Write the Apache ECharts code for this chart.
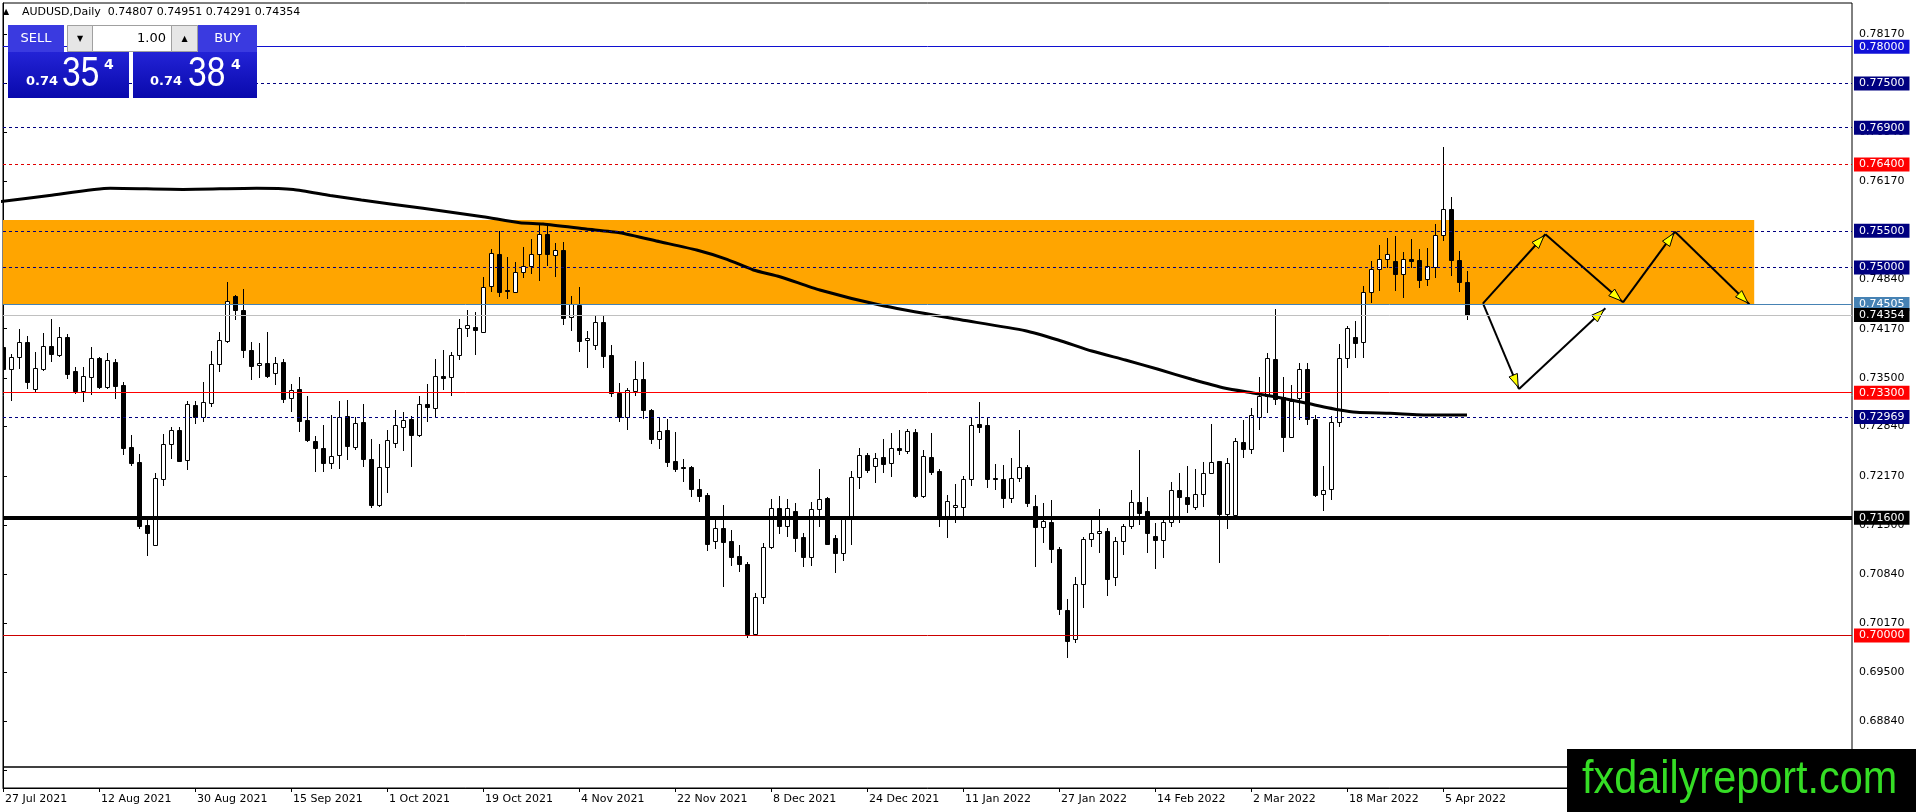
<!DOCTYPE html>
<html>
<head>
<meta charset="utf-8">
<script src="https://cdn.jsdelivr.net/npm/echarts@6/dist/echarts.min.js"></script>
<style>
html, body { margin: 0; padding: 0; background: #fff; }
#chart { width: 1916px; height: 812px; }
</style>
</head>
<body>
<div id="chart"></div>
<script>
// AUDUSD daily, bar 0 = 27 Jul 2021, one bar per weekday
var dateLabels = ['27 Jul 2021', '12 Aug 2021', '30 Aug 2021', '15 Sep 2021', '1 Oct 2021', '19 Oct 2021',
    '4 Nov 2021', '22 Nov 2021', '8 Dec 2021', '24 Dec 2021', '11 Jan 2022', '27 Jan 2022',
    '14 Feb 2022', '2 Mar 2022', '18 Mar 2022', '5 Apr 2022'];
var barsPerLabel = 12;

var opens = [
    0.73916,0.73626,0.73789,0.73988,0.73346,0.73626,0.73930,0.73807,0.74056,0.73595,
    0.73327,0.73518,0.73766,0.73382,0.73712,0.73404,0.72562,0.72354,0.71498,0.71235,
    0.72132,0.72599,0.72788,0.72390,0.73133,0.72974,0.73164,0.73685,0.74002,0.74613,
    0.74423,0.73880,0.73672,0.73699,0.73563,0.73712,0.73223,0.73345,0.72929,0.72643,
    0.72548,0.72340,0.72449,0.72979,0.72562,0.72897,0.72399,0.71774,0.72286,0.72612,
    0.72838,0.72942,0.72730,0.73146,0.73087,0.73522,0.73509,0.73807,0.74174,0.74192,
    0.74129,0.74745,0.75184,0.74695,0.74663,0.74935,0.75025,0.75179,0.75456,0.75166,
    0.75234,0.74324,0.74491,0.74011,0.73943,0.74256,0.73807,0.73300,0.72974,0.73323,
    0.73481,0.73060,0.72675,0.72788,0.72372,0.72290,0.72290,0.71987,0.71905,0.71290,
    0.71457,0.71285,0.71081,0.70968,0.70026,0.70529,0.71208,0.71733,0.71493,0.71688,
    0.71339,0.71063,0.71715,0.71865,0.71321,0.71127,0.71579,0.72150,0.72453,0.72299,
    0.72426,0.72340,0.72544,0.72512,0.72766,0.71901,0.72426,0.72236,0.71616,0.71742,
    0.71751,0.72123,0.72874,0.72856,0.72136,0.72123,0.71865,0.72136,0.72286,0.71761,
    0.71471,0.71539,0.71176,0.70348,0.69949,0.70705,0.71308,0.71389,0.71421,0.70791,
    0.71280,0.71489,0.71815,0.71693,0.71357,0.71294,0.71539,0.71973,0.71878,0.71742,
    0.71919,0.72204,0.72372,0.71652,0.71638,0.72630,0.72535,0.72974,0.73255,0.73762,
    0.73237,0.72693,0.73223,0.73622,0.72942,0.71919,0.71987,0.72897,0.73767,0.74061,
    0.73984,0.74663,0.74976,0.75111,0.75089,0.74908,0.75111,0.75098,0.74840,0.75012,
    0.75442,0.75791,0.75102,0.74807
];
var highs = [
    0.73948,0.73825,0.74161,0.74071,0.73853,0.74115,0.74296,0.74197,0.74097,0.73653,
    0.73653,0.73916,0.73789,0.73839,0.73753,0.73445,0.72725,0.72462,0.71598,0.72213,
    0.72734,0.72834,0.72838,0.73191,0.73187,0.73441,0.73866,0.74124,0.74804,0.74622,
    0.74709,0.73993,0.73970,0.74120,0.73780,0.73753,0.73418,0.73509,0.73255,0.72711,
    0.72856,0.72992,0.73187,0.73196,0.72974,0.73142,0.72671,0.72603,0.72800,0.73060,
    0.73038,0.72983,0.73255,0.73418,0.73757,0.73880,0.73857,0.74301,0.74423,0.74401,
    0.74876,0.75247,0.75496,0.75139,0.75071,0.75279,0.75383,0.75578,0.75610,0.75338,
    0.75342,0.74618,0.74731,0.74142,0.74342,0.74342,0.73952,0.73436,0.73368,0.73735,
    0.73712,0.73074,0.72960,0.72938,0.72766,0.72403,0.72299,0.72123,0.71942,0.71593,
    0.71769,0.71435,0.71226,0.71004,0.70574,0.71262,0.71860,0.71896,0.71856,0.71797,
    0.71389,0.71810,0.72263,0.71883,0.71362,0.71616,0.72241,0.72548,0.72485,0.72476,
    0.72671,0.72752,0.72793,0.72802,0.72802,0.72521,0.72752,0.72259,0.71914,0.72059,
    0.72168,0.72974,0.73173,0.72974,0.72331,0.72318,0.72408,0.72793,0.72318,0.71910,
    0.71797,0.71842,0.71208,0.70497,0.70796,0.71344,0.71588,0.71715,0.71457,0.71344,
    0.71516,0.71978,0.72521,0.71878,0.71534,0.71616,0.72087,0.72209,0.72304,0.72263,
    0.72363,0.72874,0.72376,0.72408,0.72684,0.72929,0.73087,0.73508,0.73844,0.74437,
    0.73508,0.73404,0.73699,0.73699,0.72997,0.72304,0.72988,0.73957,0.74210,0.74274,
    0.74749,0.75093,0.75306,0.75397,0.75424,0.75207,0.75383,0.75247,0.75261,0.75587,
    0.76633,0.75954,0.75225,0.74951
];
var lows = [
    0.73404,0.73191,0.73617,0.73346,0.73309,0.73599,0.73717,0.73780,0.73490,0.73282,
    0.73178,0.73264,0.73350,0.73346,0.73219,0.72453,0.72309,0.71448,0.71086,0.71235,
    0.72032,0.72404,0.72358,0.72250,0.72870,0.72897,0.73110,0.73581,0.73975,0.74287,
    0.73771,0.73477,0.73495,0.73495,0.73400,0.73155,0.73038,0.72770,0.72635,0.72227,
    0.72227,0.72268,0.72259,0.72390,0.72521,0.72290,0.71738,0.71752,0.71942,0.72544,
    0.72512,0.72286,0.72702,0.72906,0.72951,0.73336,0.73259,0.73748,0.74061,0.73812,
    0.74106,0.74672,0.74604,0.74568,0.74650,0.74862,0.74908,0.74822,0.75025,0.74876,
    0.74219,0.74142,0.73857,0.73631,0.73880,0.73631,0.73246,0.72906,0.72793,0.73259,
    0.72942,0.72607,0.72535,0.72295,0.72222,0.72091,0.71878,0.71819,0.71154,0.71172,
    0.70665,0.70950,0.70868,0.69963,0.70026,0.70425,0.71172,0.71380,0.71344,0.71140,
    0.70936,0.70950,0.71480,0.71231,0.70855,0.71018,0.71231,0.71987,0.72213,0.72078,
    0.72213,0.72159,0.72453,0.72462,0.71874,0.71874,0.72186,0.71480,0.71330,0.71525,
    0.71579,0.72037,0.72757,0.72010,0.71978,0.71729,0.71797,0.72091,0.71742,0.70936,
    0.71262,0.70991,0.70280,0.69700,0.69904,0.70370,0.71208,0.71117,0.70542,0.70678,
    0.71095,0.71443,0.71502,0.71117,0.70900,0.71050,0.71471,0.71525,0.71670,0.71706,
    0.71751,0.72195,0.70982,0.71443,0.71616,0.72408,0.72467,0.72793,0.73028,0.73133,
    0.72490,0.72680,0.72929,0.72861,0.71887,0.71693,0.71842,0.72838,0.73631,0.73767,
    0.73776,0.74523,0.74681,0.74989,0.74686,0.74591,0.74989,0.74727,0.74754,0.74853,
    0.75361,0.74890,0.74672,0.74291
];
var closes = [
    0.73622,0.73780,0.73984,0.73450,0.73631,0.73930,0.73821,0.74052,0.73558,0.73327,
    0.73522,0.73766,0.73382,0.73739,0.73395,0.72553,0.72349,0.71493,0.71398,0.72137,
    0.72603,0.72788,0.72372,0.73142,0.72974,0.73169,0.73685,0.74011,0.74541,0.74419,
    0.73875,0.73667,0.73699,0.73531,0.73708,0.73219,0.73341,0.72920,0.72657,0.72544,
    0.72340,0.72435,0.72974,0.72580,0.72884,0.72404,0.71774,0.72286,0.72653,0.72856,
    0.72924,0.72730,0.73142,0.73101,0.73527,0.73504,0.73807,0.74174,0.74224,0.74147,
    0.74740,0.75193,0.74672,0.74677,0.74935,0.75025,0.75179,0.75451,0.75189,0.75234,
    0.74319,0.74505,0.74007,0.74043,0.74256,0.73803,0.73296,0.72974,0.73332,0.73481,
    0.73060,0.72675,0.72779,0.72354,0.72268,0.72272,0.71987,0.71901,0.71240,0.71457,
    0.71276,0.71072,0.70968,0.70017,0.70529,0.71208,0.71738,0.71493,0.71733,0.71330,
    0.71063,0.71715,0.71856,0.71244,0.71127,0.71579,0.72150,0.72449,0.72250,0.72417,
    0.72336,0.72544,0.72521,0.72775,0.71896,0.72435,0.72227,0.71616,0.71824,0.71770,
    0.72123,0.72861,0.72838,0.72123,0.72127,0.71874,0.72136,0.72286,0.71797,0.71471,
    0.71552,0.71172,0.70357,0.69931,0.70696,0.71312,0.71389,0.71416,0.70773,0.71280,
    0.71489,0.71810,0.71670,0.71389,0.71294,0.71543,0.71973,0.71878,0.71783,0.71919,
    0.72209,0.72363,0.71652,0.72340,0.72639,0.72535,0.72992,0.73255,0.73767,0.73210,
    0.72693,0.73182,0.73617,0.72938,0.71910,0.71973,0.72897,0.73767,0.74183,0.73979,
    0.74663,0.74976,0.75111,0.75184,0.74908,0.75111,0.75089,0.74835,0.75025,0.75442,
    0.75791,0.75102,0.74799,0.74354
];

// moving average, read at a set of bars
var maBars = [-0.4, 5.8, 13.4, 22.5, 31.7, 36.3, 40.9, 44.8, 52.5, 60, 64.6, 67.5, 72.9, 77.1, 82.1,
    86.7, 90.5, 93.8, 97.1, 102.1, 109.6, 118.4, 127.8, 131.9, 136.1, 140.3, 144.4, 148.6, 152.8,
    156.1, 159, 163, 167.1, 169.2, 173.4, 178.4, 183];
var maValues = [0.75896, 0.75979, 0.76078, 0.76062, 0.76078, 0.76062, 0.75979, 0.75918, 0.75805,
    0.75691, 0.75609, 0.75592, 0.75524, 0.75473, 0.75351, 0.75238, 0.75112, 0.74967, 0.74876,
    0.74695, 0.74491, 0.74314, 0.74142, 0.74016, 0.73866, 0.73744, 0.73618, 0.73482, 0.73360,
    0.73300, 0.73245, 0.73156, 0.73065, 0.73034, 0.73020, 0.72997, 0.72997];

// right price scale
var priceTicks = [0.78170, 0.77500, 0.76840, 0.76170, 0.75500, 0.74840, 0.74170, 0.73500,
    0.72840, 0.72170, 0.71500, 0.70840, 0.70170, 0.69500, 0.68840, 0.68170];

// horizontal levels drawn on the chart
var levelValues = [0.78000, 0.77500, 0.76900, 0.76400, 0.75500, 0.75000, 0.74505,
    closes[closes.length - 1], 0.73300, 0.72969, 0.71600, 0.70000, 0.68220];

// resistance zone
var zoneTop = 0.75646;
var zoneBottom = 0.74505;
var zoneEndBar = 218.9;

// projected path (bar, price)
var arrowFrom = [[185.0, 0.74514], [189.5, 0.73350], [185.0, 0.74514], [192.8, 0.75452], [202.5, 0.74528], [209.0, 0.75487]];
var arrowTo   = [[189.5, 0.73350], [200.3, 0.74446], [192.8, 0.75452], [202.5, 0.74528], [209.0, 0.75487], [218.3, 0.74501]];

var FONT = 'DejaVu Sans';
var SANS = '"Liberation Sans", Arial, sans-serif';
var NAVY = '#000080';
var levelStyles = [
    {line: '#1010d0', dash: false, width: 1, box: '#1010d8'},
    {line: NAVY, dash: true, width: 1, box: NAVY},
    {line: NAVY, dash: true, width: 1, box: NAVY},
    {line: '#e00000', dash: true, width: 1, box: '#ff0000'},
    {line: NAVY, dash: true, width: 1, box: NAVY},
    {line: NAVY, dash: true, width: 1, box: NAVY},
    {line: '#4682b4', dash: false, width: 1, box: '#4682b4'},
    {line: '#c0c0c0', dash: false, width: 1, box: '#000'},
    {line: '#ff0000', dash: false, width: 1, box: '#ff0000'},
    {line: NAVY, dash: true, width: 1, box: NAVY},
    {line: '#000', dash: false, width: 4, box: '#000'},
    {line: '#cc0000', dash: false, width: 1, box: '#ff0000'},
    {line: '#000', dash: false, width: 1.5, box: null}
];

var last = closes.length - 1;
var candleData = opens.map(function (o, i) {
    return [i, o, highs[i], lows[i], closes[i]];
});
var maData = maBars.map(function (b, k) { return [b, maValues[k]]; });
var arrowData = arrowFrom.map(function (p, k) {
    return [p[0], p[1], arrowTo[k][0], arrowTo[k][1]];
});

var levelData = levelValues.map(function (v, k) {
    var s = levelStyles[k];
    return {
        yAxis: v,
        lineStyle: {color: s.line, type: s.dash ? [3, 3] : 'solid', width: s.width},
        label: s.box ? {
            show: true, position: 'end', distance: 2, formatter: v.toFixed(5),
            backgroundColor: s.box, color: '#fff', padding: [2, 5, 1, 5],
            fontFamily: FONT, fontSize: 11
        } : {show: false}
    };
});

function renderCandle(params, api) {
    var o = api.value(1), h = api.value(2), l = api.value(3), c = api.value(4);
    var pO = api.coord([api.value(0), o]);
    var pC = api.coord([api.value(0), c]);
    var pH = api.coord([api.value(0), h]);
    var pL = api.coord([api.value(0), l]);
    var x = Math.round(pO[0]);
    var top = Math.round(Math.min(pO[1], pC[1]));
    var bot = Math.round(Math.max(pO[1], pC[1]));
    return {
        type: 'group',
        children: [
            {type: 'line', shape: {x1: x + 0.5, y1: Math.round(pH[1]), x2: x + 0.5, y2: Math.round(pL[1])},
                style: {stroke: '#000', lineWidth: 1}},
            {type: 'rect', shape: {x: x - 1.5, y: top + 0.5, width: 4, height: Math.max(bot - top, 1)},
                style: {fill: c >= o ? '#fff' : '#000', stroke: '#000', lineWidth: 1}}
        ]
    };
}

function renderZone(params, api) {
    var a = api.coord([api.value(0), api.value(1)]);
    var b = api.coord([api.value(2), api.value(3)]);
    return {type: 'rect', shape: {x: a[0], y: a[1], width: b[0] - a[0], height: b[1] - a[1]},
        style: {fill: '#ffa500'}};
}

function renderArrow(params, api) {
    var p1 = api.coord([api.value(0), api.value(1)]);
    var p2 = api.coord([api.value(2), api.value(3)]);
    var dx = p2[0] - p1[0], dy = p2[1] - p1[1];
    var len = Math.sqrt(dx * dx + dy * dy);
    var ux = dx / len, uy = dy / len, nx = -uy, ny = ux;
    var tx = p2[0] - ux * 2, ty = p2[1] - uy * 2;
    var bx = tx - ux * 13, by = ty - uy * 13;
    return {
        type: 'group',
        children: [
            {type: 'line', shape: {x1: p1[0], y1: p1[1], x2: p2[0], y2: p2[1]},
                style: {stroke: '#000', lineWidth: 2}},
            {type: 'polygon', shape: {points: [[tx, ty], [bx + nx * 4.5, by + ny * 4.5], [bx - nx * 4.5, by - ny * 4.5]]},
                style: {fill: '#ffff00', stroke: '#000', lineWidth: 1}}
        ]
    };
}

function txt(x, y, s, font, align, color, sx) {
    return {type: 'text', z: 100, x: x, y: y, scaleX: sx || 1,
        style: {text: s, font: font, fill: color || '#fff', align: align || 'left', verticalAlign: 'middle',
            textAlign: align || 'left', textVerticalAlign: 'middle'}};
}
function box(x, y, w, h, fill, stroke) {
    return {type: 'rect', z: 100, shape: {x: x, y: y, width: w, height: h},
        style: {fill: fill, stroke: stroke || null, lineWidth: 1}};
}

var bigFill = {type: 'linear', x: 0, y: 0, x2: 0, y2: 1,
    colorStops: [{offset: 0, color: '#2323d6'}, {offset: 1, color: '#0909ac'}]};
var headerText = 'AUDUSD,Daily  ' + [opens[last], highs[last], lows[last], closes[last]].map(function (v) {
    return v.toFixed(5);
}).join(' ');

var graphics = [
    txt(3, 12, '\u25B2', '8px "DejaVu Sans"', 'left', '#000'),
    txt(22, 12, headerText, '11px "DejaVu Sans"', 'left', '#000'),
    box(8, 25, 56, 27, '#3a3ae0'),
    txt(36, 38.5, 'SELL', '13px "DejaVu Sans"', 'center'),
    box(67.5, 25.5, 130, 26, '#ffffff', '#a0a0a0'),
    box(67.5, 25.5, 25, 26, '#e6e6e6', '#a0a0a0'),
    box(171.5, 25.5, 26, 26, '#e6e6e6', '#a0a0a0'),
    txt(80, 38.5, '\u25BC', '8px "DejaVu Sans"', 'center', '#000'),
    txt(184.5, 38.5, '\u25B2', '8px "DejaVu Sans"', 'center', '#000'),
    txt(166, 38.5, '1.00', '13px "DejaVu Sans"', 'right', '#000'),
    box(198, 25, 59, 27, '#3a3ae0'),
    txt(227.5, 38.5, 'BUY', '13px "DejaVu Sans"', 'center'),
    box(8, 52, 121, 46, bigFill),
    box(133, 52, 124, 46, bigFill),
    txt(26, 82, '0.74', 'bold 13px "DejaVu Sans"'),
    txt(62, 74, '35', '42px ' + SANS, 'left', '#fff', 0.8),
    txt(104, 65, '4', 'bold 14px "DejaVu Sans"'),
    txt(150, 82, '0.74', 'bold 13px "DejaVu Sans"'),
    txt(188, 74, '38', '42px ' + SANS, 'left', '#fff', 0.8),
    txt(231, 65, '4', 'bold 14px "DejaVu Sans"'),
    box(1567, 749, 349, 63, '#000'),
    txt(1582, 780, 'fxdailyreport.com', '46px ' + SANS, 'left', '#35dd25', 0.9)
];

var chart = echarts.init(document.getElementById('chart'));
chart.setOption({
    animation: false,
    backgroundColor: '#fff',
    grid: {left: 3, right: 64, top: 3, bottom: 24, show: true, backgroundColor: '#fff',
        borderColor: '#000', borderWidth: 1},
    xAxis: {
        type: 'value', min: 0, max: 231.125,
        splitLine: {show: false},
        axisLine: {lineStyle: {color: '#000'}},
        axisTick: {customValues: dateLabels.map(function (d, k) { return k * barsPerLabel; }),
            length: 4, lineStyle: {color: '#000'}},
        axisLabel: {
            customValues: dateLabels.map(function (d, k) { return k * barsPerLabel; }),
            formatter: function (v) { return dateLabels[Math.round(v / barsPerLabel)] || ''; },
            align: 'left', margin: 6, padding: [0, 0, 0, 2],
            color: '#000', fontFamily: FONT, fontSize: 11
        }
    },
    yAxis: {
        type: 'value', position: 'right', min: 0.67930, max: 0.78594,
        splitLine: {show: false},
        axisLine: {show: true, lineStyle: {color: '#000'}},
        axisTick: {show: true, customValues: priceTicks, length: 4, lineStyle: {color: '#000'}},
        axisLabel: {
            customValues: priceTicks,
            formatter: function (v) { return v.toFixed(5); },
            margin: 7, color: '#000', fontFamily: FONT, fontSize: 11
        }
    },
    graphic: graphics,
    series: [
        {
            type: 'custom', name: 'zone', z: 1, silent: true, clip: true,
            renderItem: renderZone,
            encode: {x: [0, 2], y: [1, 3]},
            data: [[0, zoneTop, zoneEndBar, zoneBottom]]
        },
        {
            type: 'custom', name: 'AUDUSD', z: 2, silent: true, clip: true,
            renderItem: renderCandle,
            encode: {x: 0, y: [1, 2, 3, 4]},
            data: candleData
        },
        {
            type: 'line', name: 'MA', z: 3, silent: true,
            data: maData, smooth: 0.2, showSymbol: false, symbol: 'none',
            lineStyle: {color: '#000', width: 3},
            markLine: {
                silent: true, symbol: ['none', 'none'], animation: false, precision: 5,
                data: levelData
            }
        },
        {
            type: 'custom', name: 'path', z: 4, silent: true,
            renderItem: renderArrow,
            encode: {x: [0, 2], y: [1, 3]},
            data: arrowData
        }
    ]
});
</script>
</body>
</html>
